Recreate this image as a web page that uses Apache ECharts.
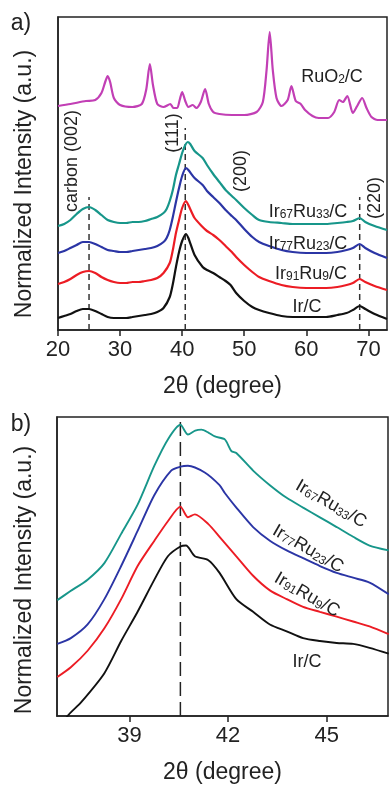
<!DOCTYPE html>
<html><head><meta charset="utf-8">
<script src="https://cdn.jsdelivr.net/npm/echarts@6/dist/echarts.min.js"></script>
<style>html,body{margin:0;padding:0;background:#fff}#c{width:389px;height:785px}</style>
</head><body><div id="c"></div>
<script>
// ---------- data ----------
const ticksA = [20, 30, 40, 50, 60, 70];
const ticksB = [39, 42, 45];

// Panel a) XRD patterns [2theta, intensity a.u. (offset stacked)]
const ruo2 = [[20,224],[22,226],[24.5,229],[26,230],[27,237],[27.6,248],[28,254],[28.4,248],[29,232],[30,225],[32,223],[33.5,226],[34.2,240],[34.8,266],[35.3,245],[36,226],[37,223],[38.1,226],[38.6,222],[39.2,222],[39.6,230],[40,238],[40.5,229],[41,223],[41.7,225],[42.3,222],[43,228],[43.7,241],[44.3,226],[45,218],[46,216],[48,215],[50,215],[52,218],[53,228],[53.6,260],[54.1,298],[54.6,260],[55.2,232],[56,224],[57,230],[57.6,244],[58.3,229],[59.1,226],[59.8,220],[61,214],[62,212],[63.5,212],[64.5,218],[65.3,230],[65.9,228],[66.6,234],[67.5,217],[68.2,224],[69,232],[69.7,222],[70.5,213],[71.5,210],[73,210]];
const ir67ru33A = [[20,104],[21,106],[22,110],[23,116],[24,121],[25,123],[26,120],[27,115],[28,110],[29,108],[30,107],[31,107],[32,108],[33,108],[34,109],[35,111],[36,113],[37,117],[37.5,121],[38,129],[38.5,140],[39,155],[39.5,166],[40,177],[40.5,185],[40.9,188],[41.3,186],[42,179],[43.3,172],[44,165],[45,156],[46,148],[47,140],[48,134],[48.7,130],[50,122],[51.3,115],[52.4,110],[54,108],[56,107],[57.8,106],[60,106],[63.2,106],[65,107],[66.5,108],[67.5,109],[68.6,112],[69.5,108],[71,104],[73,100]];
const ir77ru23A = [[20,77],[21,79],[22,82],[23,85],[24,88],[25,88],[26,86],[27,83],[28,80],[29,79],[30,78],[31,78],[32,79],[33,80],[34,81],[35,82],[36,84],[37,88],[37.5,92],[38,100],[38.5,113],[39,128],[39.5,142],[40,154],[40.6,162],[41,160],[42,152],[43.3,145],[44,139],[45,133],[46,127],[47,120],[48,114],[48.7,110],[50,101],[51.3,93],[52.4,88],[54,84],[56,80],[57.8,78],[60,77],[63.2,77],[65,78],[66.5,80],[67.5,82],[68.6,86],[69.5,82],[71,77],[73,72]];
const ir91ru9A = [[20,46],[21,48],[22,51],[23,55],[24,58],[25,59],[26,57],[27,53],[28,50],[29,48],[30,47],[31,47],[32,48],[33,48],[34,49],[35,50],[36,52],[37,57],[38,67],[38.5,80],[39,97],[39.5,110],[40,122],[40.6,129],[41,125],[42,112],[43.3,103],[44,99],[45,95],[46,90],[47,84],[48,78],[48.7,73],[50,65],[51.3,58],[52.4,53],[54,49],[56,45],[57.8,43],[60,42],[63.2,42],[65,43],[66.5,45],[67.5,47],[68.6,51],[69.5,48],[71,44],[73,40]];
const irA = [[20,12],[21,14],[22,16],[23,19],[24,21],[25,21],[26,19],[27,16],[28,13],[29,12],[30,12],[31,12],[32,13],[33,14],[34,15],[35,16],[36,18],[37,22],[38,33],[38.5,46],[39,63],[39.5,78],[40,89],[40.6,96],[41,92],[42,75],[43.3,63],[44,60],[45,57],[46,53],[47,49],[47.8,45],[48.7,37],[50,29],[51.3,23],[52.4,20],[54,17],[56,14],[57.8,13],[60,13],[63.2,13],[65,15],[66.5,17],[67.5,20],[68.6,24],[69.5,21],[71,16],[73,11]];

// reference (dashed) lines in panel a: position and top value
const refPosA = [25, 40.5, 68.6];
const refTopA = [133, 202, 133];

// Panel b) zoom around (111)
const ir67ru33B = [[36.81,119],[37.2,128],[37.73,140],[38.24,157],[38.75,187],[39.25,217],[39.76,257],[40.17,284],[40.55,299],[40.78,289],[41.0,293],[41.19,294],[41.4,291],[41.6,287],[41.9,284],[42.1,272],[42.25,270],[42.76,252],[43.27,237],[43.78,224],[44.28,214],[44.79,204],[45.3,194],[45.8,184],[46.3,175],[46.88,170]];
const ir77ru23B = [[36.81,74],[37.22,80],[37.73,94],[38.24,120],[38.75,154],[39.25,190],[39.76,227],[40.27,252],[40.55,256],[40.78,257],[41.29,250],[41.74,237],[41.9,229],[42.25,214],[42.76,194],[43.27,180],[43.78,170],[44.28,162],[44.79,154],[45.3,147],[45.8,142],[46.3,137],[46.88,125]];
const ir91ru9B = [[36.81,40],[37.22,50],[37.73,67],[38.24,90],[38.75,120],[39.25,154],[39.76,180],[40.17,200],[40.55,215],[40.78,204],[40.99,207],[41.4,197],[41.74,184],[42.25,164],[42.76,144],[43.27,129],[43.78,120],[44.28,112],[44.79,107],[45.3,102],[45.8,97],[46.3,92],[46.88,84]];
const irB = [[36.8,-20],[37.12,0],[37.53,14],[38.24,44],[38.75,77],[39.25,107],[39.76,140],[40.17,164],[40.55,174],[40.72,175],[40.99,164],[41.4,160],[41.74,147],[42.25,120],[42.76,107],[43.27,94],[43.78,87],[44.28,80],[44.79,77],[45.3,75],[45.8,74],[46.3,70],[46.88,64]];
const refPosB = 40.55;

// ---------- chart ----------
const FONT = 'Liberation Sans, Arial, sans-serif';
const C = { ruo2:'#c23fb5', teal:'#17968a', blue:'#2b35a5', red:'#ec1c24', black:'#111111' };
const chart = echarts.init(document.getElementById('c'), null, {renderer:'canvas'});

function lineSeries(data, color, xi, w) {
  return { type:'line', xAxisIndex:xi, yAxisIndex:xi, data:data, symbol:'none', smooth:0.25,
    lineStyle:{color:color, width:w||2.2}, silent:true, animation:false, z:3 };
}
const series = [
  lineSeries(ruo2, C.ruo2, 0),
  lineSeries(ir67ru33A, C.teal, 0),
  lineSeries(ir77ru23A, C.blue, 0),
  lineSeries(ir91ru9A, C.red, 0),
  lineSeries(irA, C.black, 0),
  lineSeries(ir67ru33B, C.teal, 1, 1.9),
  lineSeries(ir77ru23B, C.blue, 1, 1.9),
  lineSeries(ir91ru9B, C.red, 1, 1.9),
  lineSeries(irB, C.black, 1, 1.9)
];
refPosA.forEach((p, i) => {
  series.push({ type:'line', xAxisIndex:0, yAxisIndex:0, data:[[p,0],[p,refTopA[i]]], symbol:'none',
    lineStyle:{color:'#333', width:1.5, type:[6,4]}, silent:true, animation:false, z:2 });
});
series.push({ type:'line', xAxisIndex:1, yAxisIndex:1, data:[[refPosB,0],[refPosB,307]], symbol:'none',
  lineStyle:{color:'#222', width:1.5, type:[14,6]}, silent:true, animation:false, z:2 });

function xAx(gi, min, max, ticks) {
  return { type:'value', gridIndex:gi, min:min, max:max, name:'2θ (degree)', nameLocation:'middle', nameGap:45,
    nameTextStyle:{fontSize:23, color:'#222', fontFamily:FONT},
    axisLine:{show:true, lineStyle:{color:'#222', width:1.5}},
    axisTick:{show:true, inside:false, length:6, customValues:ticks, lineStyle:{color:'#222', width:1.5}},
    axisLabel:{customValues:ticks, fontSize:22, color:'#222', fontFamily:FONT, margin:9},
    splitLine:{show:false} };
}
function yAx(gi, max) {
  return { type:'value', gridIndex:gi, min:0, max:max,
    axisLine:{show:true, lineStyle:{color:'#222', width:1.5}}, axisTick:{show:false}, axisLabel:{show:false}, splitLine:{show:false} };
}
function sub(txt, x, y, rot, size) {
  return { type:'text', x:x, y:y, rotation:rot||0, z:10,
    style:{ text:txt, fontSize:size||18, fontFamily:FONT, fill:'#222', align:'center', verticalAlign:'middle',
      rich:{ s:{fontSize:12, fontFamily:FONT, fill:'#222', verticalAlign:'bottom'} } } };
}
const R90 = Math.PI/2, ROT = -30*Math.PI/180;
const graphics = [
  { type:'text', x:21, y:24, style:{text:'a)', fontSize:23, fontFamily:FONT, fill:'#222', align:'center', verticalAlign:'middle'} },
  { type:'text', x:21, y:425, style:{text:'b)', fontSize:23, fontFamily:FONT, fill:'#222', align:'center', verticalAlign:'middle'} },
  sub('Normalized Intensity (a.u.)', 25, 184, R90, 23),
  sub('Normalized Intensity (a.u.)', 25, 580, R90, 23),
  sub('RuO{s|2}/C', 332, 77),
  sub('Ir{s|67}Ru{s|33}/C', 308, 212),
  sub('Ir{s|77}Ru{s|23}/C', 308, 244),
  sub('Ir{s|91}Ru{s|9}/C', 311, 274),
  sub('Ir/C', 307, 307),
  sub('carbon (002)', 72, 161, R90),
  sub('(111)', 173, 133, R90),
  sub('(200)', 241, 171, R90),
  sub('(220)', 375, 198, R90),
  sub('Ir{s|67}Ru{s|33}/C', 331, 504, ROT),
  sub('Ir{s|77}Ru{s|23}/C', 308, 549, ROT),
  sub('Ir{s|91}Ru{s|9}/C', 307, 595, ROT),
  sub('Ir/C', 307, 662)
];

chart.setOption({
  animation:false,
  backgroundColor:'#fff',
  textStyle:{fontFamily:FONT},
  grid:[
    {left:58, top:17, width:329, height:313, show:true, borderColor:'#222', borderWidth:1.5, containLabel:false},
    {left:57, top:417, width:331, height:307, show:true, borderColor:'#222', borderWidth:1.5, containLabel:false}
  ],
  xAxis:[ xAx(0, 20, 73, ticksA), xAx(1, 36.8, 46.86, ticksB) ],
  yAxis:[ yAx(0, 313), yAx(1, 307) ],
  series: series,
  graphic: graphics
});
</script>
</body></html>
